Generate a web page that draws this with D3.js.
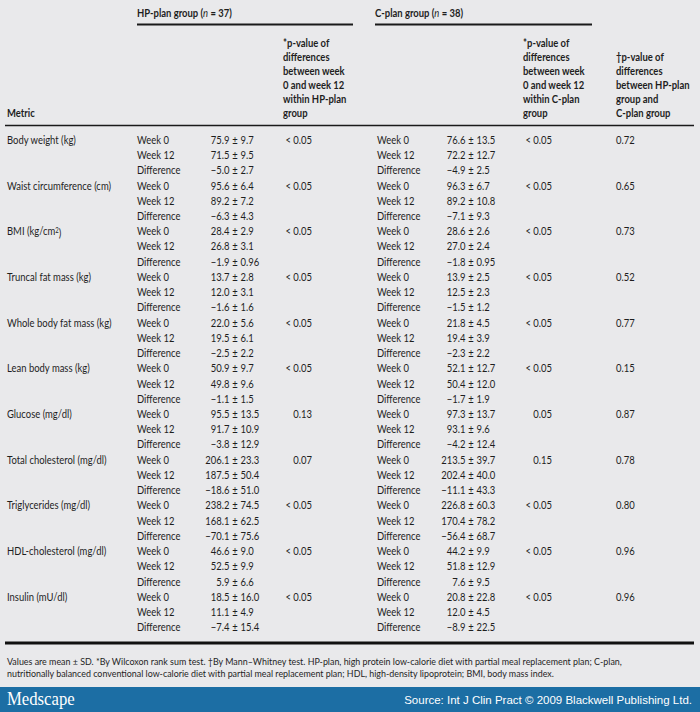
<!DOCTYPE html>
<html>
<head>
<meta charset="utf-8">
<script src="https://cdn.jsdelivr.net/npm/d3@7/dist/d3.min.js"></script>
<style>
  html, body { margin: 0; padding: 0; background: #e9e9eb; }
  svg { display: block; }
  text { font-family: Lato, "Noto Sans", sans-serif; fill: #1e1e1e; }
</style>
</head>
<body>
<svg id="chart" width="700" height="712"></svg>
<script>
// ---------------- data ----------------
const metrics = ["Body weight (kg)", "Waist circumference (cm)", "BMI (kg/cm|2|)", "Truncal fat mass (kg)",
  "Whole body fat mass (kg)", "Lean body mass (kg)", "Glucose (mg/dl)", "Total cholesterol (mg/dl)",
  "Triglycerides (mg/dl)", "HDL-cholesterol (mg/dl)", "Insulin (mU/dl)"];
const timepoints = ["Week 0", "Week 12", "Difference"];

const hpWeek0Mean  = ["75.9", "95.6", "28.4", "13.7", "22.0", "50.9", "95.5", "206.1", "238.2", "46.6", "18.5"];
const hpWeek0SD    = ["9.7", "6.4", "2.9", "2.8", "5.6", "9.7", "13.5", "23.3", "74.5", "9.0", "16.0"];
const hpWeek12Mean = ["71.5", "89.2", "26.8", "12.0", "19.5", "49.8", "91.7", "187.5", "168.1", "52.5", "11.1"];
const hpWeek12SD   = ["9.5", "7.2", "3.1", "3.1", "6.1", "9.6", "10.9", "50.4", "62.5", "9.9", "4.9"];
const hpDiffMean   = ["−5.0", "−6.3", "−1.9", "−1.6", "−2.5", "−1.1", "−3.8", "−18.6", "−70.1", "5.9", "−7.4"];
const hpDiffSD     = ["2.7", "4.3", "0.96", "1.6", "2.2", "1.5", "12.9", "51.0", "75.6", "6.6", "15.4"];
const hpP          = ["< 0.05", "< 0.05", "< 0.05", "< 0.05", "< 0.05", "< 0.05", "0.13", "0.07", "< 0.05", "< 0.05", "< 0.05"];

const cWeek0Mean   = ["76.6", "96.3", "28.6", "13.9", "21.8", "52.1", "97.3", "213.5", "226.8", "44.2", "20.8"];
const cWeek0SD     = ["13.5", "6.7", "2.6", "2.5", "4.5", "12.7", "13.7", "39.7", "60.3", "9.9", "22.8"];
const cWeek12Mean  = ["72.2", "89.2", "27.0", "12.5", "19.4", "50.4", "93.1", "202.4", "170.4", "51.8", "12.0"];
const cWeek12SD    = ["12.7", "10.8", "2.4", "2.3", "3.9", "12.0", "9.6", "40.0", "78.2", "12.9", "4.5"];
const cDiffMean    = ["−4.9", "−7.1", "−1.8", "−1.5", "−2.3", "−1.7", "−4.2", "−11.1", "−56.4", "7.6", "−8.9"];
const cDiffSD      = ["2.5", "9.3", "0.95", "1.2", "2.2", "1.9", "12.4", "43.3", "68.7", "9.5", "22.5"];
const cP           = ["< 0.05", "< 0.05", "< 0.05", "< 0.05", "< 0.05", "< 0.05", "0.05", "0.15", "< 0.05", "< 0.05", "< 0.05"];

const betweenP     = ["0.72", "0.65", "0.73", "0.52", "0.77", "0.15", "0.87", "0.78", "0.80", "0.96", "0.96"];

const groupTitles = [["HP-plan group (", "n", " = 37)"], ["C-plan group (", "n", " = 38)"]];
const hpHeader = ["*p-value of", "differences", "between week", "0 and week 12", "within HP-plan", "group"];
const cHeader = ["*p-value of", "differences", "between week", "0 and week 12", "within C-plan", "group"];
const betweenHeader = ["†p-value of", "differences", "between HP-plan", "group and", "C-plan group"];
const footnotes = [
  "Values are mean ± SD. *By Wilcoxon rank sum test. †By Mann–Whitney test. HP-plan, high protein low-calorie diet with partial meal replacement plan; C-plan,",
  "nutritionally balanced conventional low-calorie diet with partial meal replacement plan; HDL, high-density lipoprotein; BMI, body mass index."
];
const sourceText = "Source: Int J Clin Pract © 2009 Blackwell Publishing Ltd.";

// ---------------- layout ----------------
const W = 700, H = 712;
const svg = d3.select("#chart");
const FS = 11;
const SQUEEZE = 0.86;      // mimic the condensed face of the original
const NOTE_FS = 10;
const NOTE_SQUEEZE = 0.89;

const col = d3.scaleOrdinal()
  .domain(["metric", "hpTime", "hpPM", "hpP", "cTime", "cPM", "cP", "bP"])
  .range([7, 137, 235, 312, 377, 471, 552, 616]);

const nRows = metrics.length * 3;
const y = d3.scaleLinear().domain([0, nRows - 1]).range([140, 627.4]);
const hy = d3.scaleLinear().domain([0, 5]).range([43, 113]);

const g = svg.append("g");

// text is drawn at the origin and placed by a transform that also narrows it
function addText(sel, x, yy, str, anchor, bold, sq, fs) {
  const t = sel.append("text")
    .attr("transform", `translate(${x},${yy}) scale(${sq || SQUEEZE},1)`)
    .attr("dy", "0.35em")
    .attr("text-anchor", anchor || "start").style("font-size", (fs || FS) + "px");
  if (str !== null) t.text(str);
  if (bold) t.style("font-weight", "bold");
  return t;
}

// rows
const rows = [];
metrics.forEach((m, i) => {
  const hpM = [hpWeek0Mean[i], hpWeek12Mean[i], hpDiffMean[i]];
  const hpS = [hpWeek0SD[i], hpWeek12SD[i], hpDiffSD[i]];
  const cM = [cWeek0Mean[i], cWeek12Mean[i], cDiffMean[i]];
  const cS = [cWeek0SD[i], cWeek12SD[i], cDiffSD[i]];
  timepoints.forEach((t, k) => {
    rows.push({ r: i * 3 + k, k, metric: m, t, hpM: hpM[k], hpS: hpS[k], cM: cM[k], cS: cS[k],
      hpP: k === 0 ? hpP[i] : "", cP: k === 0 ? cP[i] : "", bP: k === 0 ? betweenP[i] : "" });
  });
});

const rowG = g.selectAll("g.row").data(rows).join("g").attr("class", "row");
rowG.each(function (d) {
  const s = d3.select(this);
  const yy = y(d.r);
  if (d.k === 0) {
    const parts = d.metric.split("|");
    const t = addText(s, col("metric"), yy, null);
    t.append("tspan").text(parts[0]);
    if (parts.length > 1) {
      t.append("tspan").attr("dy", "-0.35em").style("font-size", "7px").text(parts[1]);
      t.append("tspan").attr("dy", "0.35em").text(parts[2]);
    }
  }
  addText(s, col("hpTime"), yy, d.t);
  addText(s, col("hpPM") - 5.5, yy, d.hpM, "end");
  addText(s, col("hpPM"), yy, "±", "middle");
  addText(s, col("hpPM") + 5.5, yy, d.hpS);
  if (d.hpP) addText(s, col("hpP"), yy, d.hpP, "end");
  addText(s, col("cTime"), yy, d.t);
  addText(s, col("cPM") - 5.5, yy, d.cM, "end");
  addText(s, col("cPM"), yy, "±", "middle");
  addText(s, col("cPM") + 5.5, yy, d.cS);
  if (d.cP) addText(s, col("cP"), yy, d.cP, "end");
  if (d.bP) addText(s, col("bP"), yy, d.bP);
});

// header
const titleX = [col("hpTime"), col("cTime") - 2];
groupTitles.forEach((p, i) => {
  const t = addText(g, titleX[i], 13, null, "start", true);
  t.append("tspan").text(p[0]);
  t.append("tspan").style("font-style", "italic").style("font-weight", "normal").text(p[1]);
  t.append("tspan").text(p[2]);
});
const ruleSpan = [[137, 353], [375, 592]];
ruleSpan.forEach(s => {
  g.append("line").attr("x1", s[0]).attr("x2", s[1]).attr("y1", 24.5).attr("y2", 24.5)
    .attr("stroke", "#1a1a1a").attr("stroke-width", 2);
});
addText(g, col("metric"), hy(5), "Metric", "start", true);
hpHeader.forEach((l, i) => addText(g, 283, hy(i), l, "start", true));
cHeader.forEach((l, i) => addText(g, 523, hy(i), l, "start", true));
betweenHeader.forEach((l, i) => addText(g, col("bP"), hy(i + 1), l, "start", true));

g.append("line").attr("x1", 5).attr("x2", 694).attr("y1", 125.5).attr("y2", 125.5)
  .attr("stroke", "#1a1a1a").attr("stroke-width", 1.5);
g.append("line").attr("x1", 5).attr("x2", 694).attr("y1", 643).attr("y2", 643)
  .attr("stroke", "#111").attr("stroke-width", 3);

// footnotes
footnotes.forEach((f, i) => addText(g, 7, 661 + i * 12, f, "start", false, NOTE_SQUEEZE, NOTE_FS));

// footer band
svg.append("rect").attr("x", 0).attr("y", 687).attr("width", W).attr("height", H - 687).attr("fill", "#1c6ea4");
svg.append("text").attr("transform", "translate(7,698) scale(0.88,1)").attr("dy", "0.35em")
  .style("font-family", "'Liberation Serif', 'DejaVu Serif', serif").style("font-size", "19px")
  .style("fill", "#fff").text("Medscape");
svg.append("text").attr("x", 692).attr("y", 700).attr("dy", "0.35em").attr("text-anchor", "end")
  .style("font-family", "'Liberation Sans', Arial, sans-serif").style("font-size", "11.5px")
  .style("fill", "#fff").text(sourceText);
</script>
</body>
</html>
